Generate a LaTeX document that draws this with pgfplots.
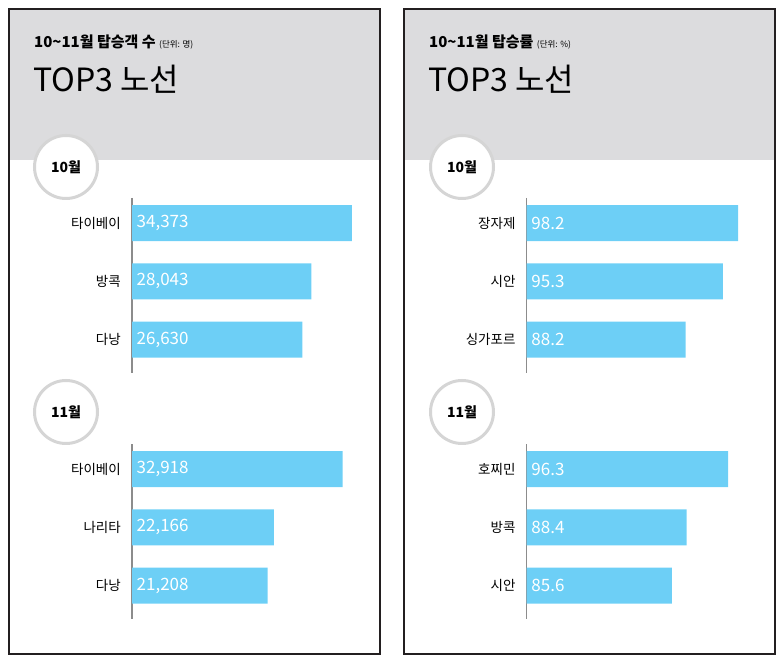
\documentclass[border=0pt]{standalone}
\usepackage{pgfplots}
\pgfplotsset{compat=1.18}
\usepackage{pgfplotstable}
\usepackage{fontspec}
\setmainfont{Noto Sans CJK KR}
\definecolor{barblue}{HTML}{6DCFF6}
\definecolor{headgray}{HTML}{DCDCDE}
\definecolor{framec}{HTML}{231F20}
\definecolor{circgray}{HTML}{D5D5D5}
\definecolor{axisgray}{HTML}{8C8C8C}

\pgfplotstableread{
y v lab
0 34373 34,373
1 28043 28,043
2 26630 26,630
}\paxOct
\pgfplotstableread{
y v lab
0 32918 32,918
1 22166 22,166
2 21208 21,208
}\paxNov
\pgfplotstableread{
y v lab
0 98.2 98.2
1 95.3 95.3
2 88.2 88.2
}\rateOct
\pgfplotstableread{
y v lab
0 96.3 96.3
1 88.4 88.4
2 85.6 85.6
}\rateNov

\pgfplotsset{
  panel/.style={scale only axis, height=175pt,
    axis x line=none, axis y line*=left,
    y axis line style={draw=axisgray, line width=1.1pt},
    ymin=-0.43, ymax=2.575, y dir=reverse, ytick={0,1,2},
    major tick length=0pt,
    yticklabel style={font=\fontsize{13.5}{13.5}\selectfont, text=black, inner sep=0pt, xshift=-11pt},
    anchor=north west},
  barplot/.style={xbar, bar width=36pt, fill=barblue, draw=none, bar shift=0pt},
  labplot/.style={mark=none, draw=none,
    nodes near coords, point meta=explicit symbolic,
    every node near coord/.append style={anchor=west, text=white,
      font=\fontsize{17}{17}\selectfont, inner sep=0pt, xshift=4.5pt}},
}

\begin{document}
\begin{tikzpicture}[x=1pt,y=1pt]
\path (0pt,0pt) rectangle (783pt,666pt);
% panels
\fill[headgray] (9pt,657pt) rectangle (380pt,506pt);
\draw[framec, line width=1.1pt] (9pt,657pt) rectangle (380pt,12pt);
\fill[headgray] (404pt,657pt) rectangle (775pt,506pt);
\draw[framec, line width=1.1pt] (404pt,657pt) rectangle (775pt,12pt);
% titles
\node[anchor=base west, inner sep=0pt, font=\bfseries\fontsize{15}{15}\selectfont] at (34pt,618.5pt) {10\textasciitilde11월 탑승객 수 {\normalfont\fontsize{8.5}{8.5}\selectfont (단위: 명)}};
\node[anchor=base west, inner sep=0pt, font=\fontsize{32}{32}\selectfont] at (33pt,574.5pt) {TOP3 노선};
\node[anchor=base west, inner sep=0pt, font=\bfseries\fontsize{15}{15}\selectfont] at (429pt,618.5pt) {10\textasciitilde11월 탑승률 {\normalfont\fontsize{8.5}{8.5}\selectfont (단위: \%)}};
\node[anchor=base west, inner sep=0pt, font=\fontsize{32}{32}\selectfont] at (428pt,574.5pt) {TOP3 노선};
% month circles
\foreach \cx/\cy/\m in {66/499/10월, 66/254/11월, 462/499/10월, 462/254/11월}{
  \draw[circgray, line width=3pt, fill=white] (\cx pt,\cy pt) circle (31.5pt);
  \node[font=\bfseries\fontsize{14}{14}\selectfont] at (\cx pt,\cy pt) {\m};
}
% left panel: passengers
\begin{axis}[panel, at={(132pt,468pt)}, width=240pt, xmin=0, xmax=37500,
  yticklabels={타이베이,방콕,다낭}]
\addplot[barplot] table[x=v, y=y] {\paxOct};
\addplot[labplot] table[x expr=0, y=y, meta=lab] {\paxOct};
\end{axis}
\begin{axis}[panel, at={(132pt,222pt)}, width=240pt, xmin=0, xmax=37500,
  yticklabels={타이베이,나리타,다낭}]
\addplot[barplot] table[x=v, y=y] {\paxNov};
\addplot[labplot] table[x expr=0, y=y, meta=lab] {\paxNov};
\end{axis}
% right panel: load factor
\begin{axis}[panel, at={(526.7pt,468pt)}, width=242pt, xmin=58, xmax=104,
  yticklabels={장자제,시안,싱가포르}]
\addplot[barplot] table[x=v, y=y] {\rateOct};
\addplot[labplot] table[x expr=58, y=y, meta=lab] {\rateOct};
\end{axis}
\begin{axis}[panel, at={(526.7pt,222pt)}, width=242pt, xmin=58, xmax=104,
  yticklabels={호찌민,방콕,시안}]
\addplot[barplot] table[x=v, y=y] {\rateNov};
\addplot[labplot] table[x expr=58, y=y, meta=lab] {\rateNov};
\end{axis}
\end{tikzpicture}
\end{document}
